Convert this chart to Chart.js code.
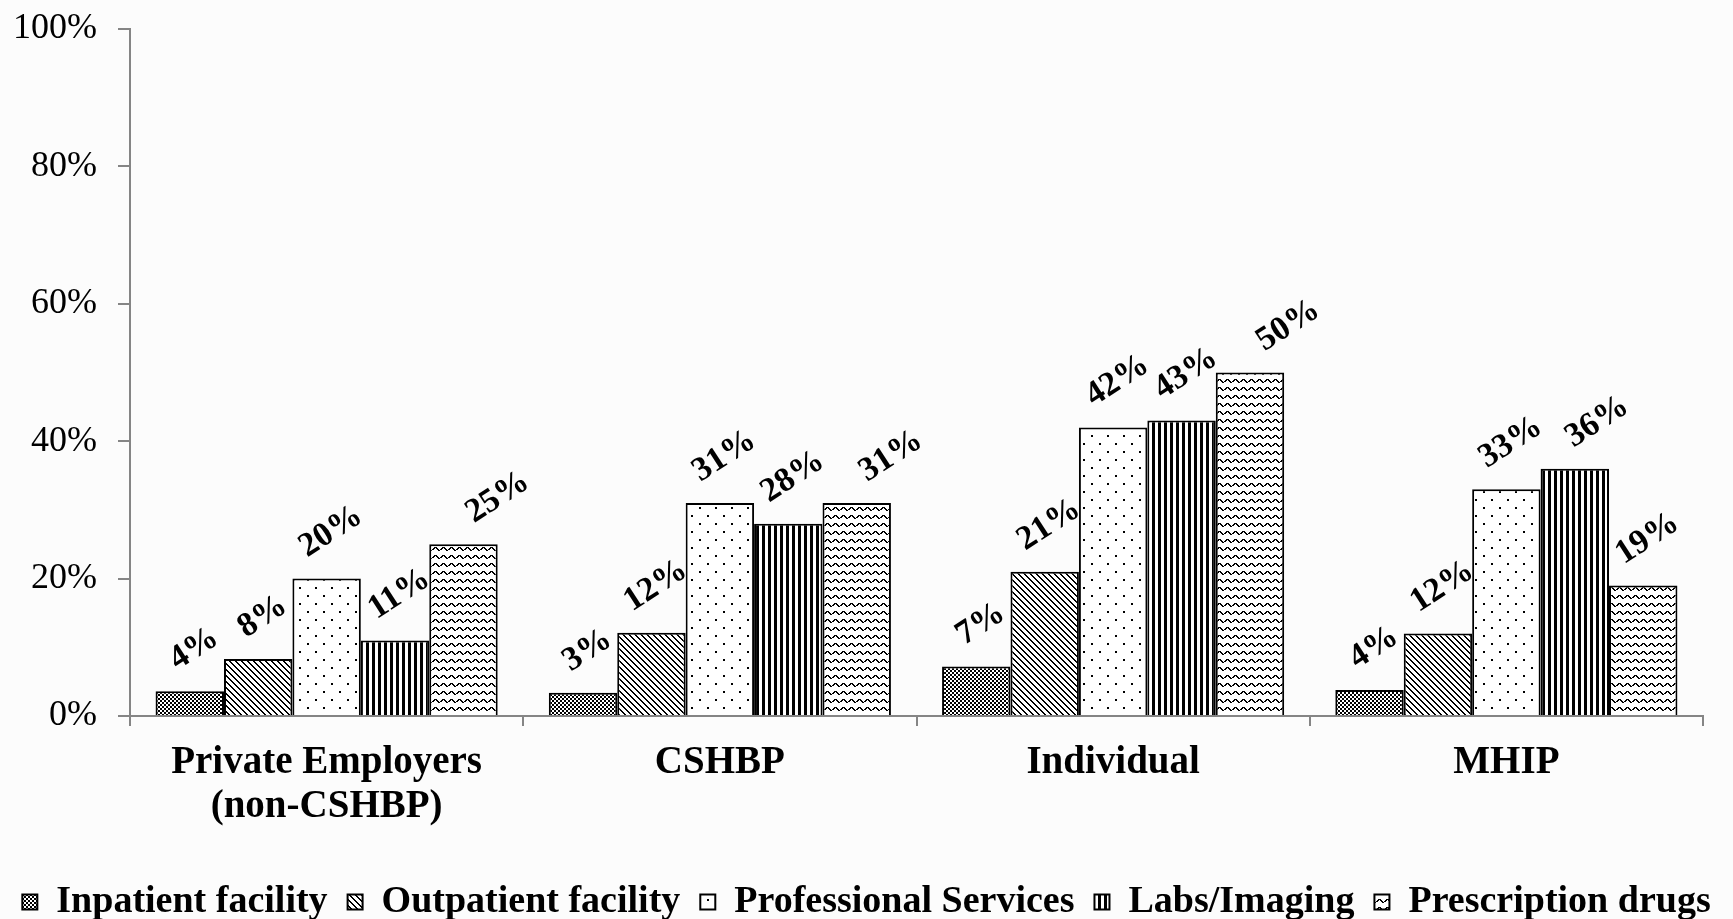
<!DOCTYPE html>
<html><head><meta charset="utf-8">
<script src="https://cdn.jsdelivr.net/npm/chart.js@4.4.1/dist/chart.umd.min.js"></script>
<style>html,body{margin:0;padding:0;background:#fcfcfc;} #wrap{width:1733px;height:919px;position:relative;}</style>
</head><body><div id="wrap"><canvas id="c"></canvas></div>
<script>
const categories = [['Private Employers','(non-CSHBP)'],'CSHBP','Individual','MHIP'];
const seriesNames = ['Inpatient facility','Outpatient facility','Professional Services','Labs/Imaging','Prescription drugs'];
const inpatient = [3.6, 3.4, 7.2, 3.8];
const outpatient = [8.3, 12.1, 21, 12];
const professional = [20, 31, 42, 33];
const labs = [11, 28, 43, 36];
const prescription = [25, 31, 50, 19];
const yTicks = [0, 20, 40, 60, 80, 100];

const canvas = document.getElementById('c');
const ctx0 = canvas.getContext('2d');
function makePattern(w, h, draw){
  const c = document.createElement('canvas'); c.width = w; c.height = h;
  const g = c.getContext('2d'); g.fillStyle = '#fff'; g.fillRect(0,0,w,h); g.fillStyle = '#000';
  draw(g); return ctx0.createPattern(c, 'repeat');
}
const patInpatient = makePattern(4,4,g=>{ g.fillRect(0,0,2,2); g.fillRect(2,2,2,2); });
const patOutpatient = makePattern(6,6,g=>{ for(let y=0;y<6;y++){ g.fillRect(y,y,1,1); g.fillRect((y+1)%6,y,1,1);} });
const patProfessional = makePattern(16,16,g=>{ g.fillRect(3,3,2,2); g.fillRect(11,11,2,2); });
const patLabs = makePattern(6,2,g=>{ g.fillRect(0,0,3,2); });
const patRx = makePattern(8,8,g=>{ const ys=[5,4,3,3,4,5,6,6]; for(let x=0;x<8;x++){ g.fillRect(x,ys[x],1,1); if(x>0 && ys[x]!==ys[x-1]) g.fillRect(x,Math.min(ys[x],ys[x-1]),1,2);} });
const patterns = [patInpatient, patOutpatient, patProfessional, patLabs, patRx];
const seriesData = [inpatient, outpatient, professional, labs, prescription];

const FONT = 'Liberation Serif';
const labelPlugin = {
  id:'barLabels',
  afterDatasetsDraw(chart, args, opts){
    const ctx = chart.ctx;
    const fs = opts.size || 34;
    const nudge = opts.nudgeX || [];
    ctx.save();
    ctx.font = 'bold ' + fs + 'px "' + FONT + '"';
    ctx.fillStyle = '#000';
    ctx.textAlign = 'center';
    ctx.textBaseline = 'alphabetic';
    const a = -33*Math.PI/180;
    chart.data.datasets.forEach((ds,i)=>{
      const meta = chart.getDatasetMeta(i);
      meta.data.forEach((bar,j)=>{
        const txt = Math.round(ds.data[j]) + '%';
        const w = ctx.measureText(txt).width;
        const h = fs*0.66;
        const bh = w*Math.sin(-a) + h*Math.cos(a);
        const dx = (nudge[i] && nudge[i][j]) || 0;
        const cx = bar.x + 3 + dx, cy = bar.y - 21 - bh/2;
        ctx.save(); ctx.translate(cx, cy); ctx.rotate(a); ctx.fillText(txt, 0, h/2); ctx.restore();
      });
    });
    ctx.restore();
  }
};

new Chart(canvas, {
  type:'bar',
  data:{
    labels: categories,
    datasets: seriesNames.map((n,i)=>({
      label:n, data:seriesData[i], backgroundColor:patterns[i], borderColor:'#000', borderWidth:2,
      barPercentage:1, categoryPercentage:0.87
    }))
  },
  options:{
    responsive:true, maintainAspectRatio:false, animation:false,
    layout:{padding:{top:29, right:0, left:0, bottom:-12}},
    plugins:{
      legend:{position:'bottom', labels:{font:{family:FONT, size:38, weight:'bold'}, color:'#000', boxWidth:15, boxHeight:15, padding:20}},
      tooltip:{enabled:false},
      barLabels:{size:34, nudgeX:[[0,0,0,0],[0,0,0,0],[0,0,0,0],[0,0,0,18],[30,30,34,0]]}
    },
    scales:{
      x:{
        grid:{drawOnChartArea:false, drawTicks:true, tickLength:10, color:'#858585', lineWidth:2, offset:true},
        border:{color:'#858585', width:2},
        ticks:{font:{family:FONT, size:39, weight:'bold', lineHeight:1.15}, color:'#000', padding:14, maxRotation:0, autoSkip:false},
        afterFit(s){ s.height = 147; }
      },
      y:{
        min:0, max:100,
        grid:{drawOnChartArea:false, tickLength:12, color:'#858585', lineWidth:2},
        border:{color:'#858585', width:2},
        ticks:{font:{family:FONT, size:36}, color:'#000', padding:21, callback:v=>v+'%'},
        afterBuildTicks(s){ s.ticks = yTicks.map(v=>({value:v})); },
        afterFit(s){ s.width = 130; s.paddingTop = 10; s.paddingBottom = 10; }
      },
      yRight:{
        position:'right', display:true,
        grid:{display:false}, border:{display:false}, ticks:{display:false},
        afterFit(s){ s.width = 30; }
      }
    }
  },
  plugins:[labelPlugin]
});
</script></body></html>
